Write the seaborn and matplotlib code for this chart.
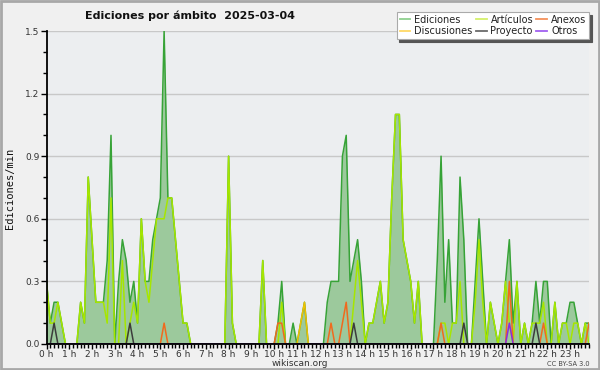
import numpy as np
import pandas as pd
import matplotlib
matplotlib.use("Agg")
import matplotlib.pyplot as plt
from matplotlib.lines import Line2D
from matplotlib.patches import Rectangle
from matplotlib.ticker import MultipleLocator, FixedLocator, FixedFormatter
import seaborn as sns

# ---- data: edits per minute, 10-minute bins (144 bins) ----
minutos = list(range(0, 1440, 10))
horas_lbl = [f"{h} h" for h in range(24)]

ediciones = [
    0.3, 0.1, 0.2, 0.2, 0.1, 0, 0, 0, 0, 0.2, 0.1, 0.8,
    0.5, 0.2, 0.2, 0.2, 0.4, 1.0, 0, 0.3, 0.5, 0.4, 0.2, 0.3,
    0.1, 0.6, 0.3, 0.3, 0.5, 0.6, 0.7, 1.5, 0.7, 0.7, 0.5, 0.3,
    0.1, 0.1, 0, 0, 0, 0, 0, 0, 0, 0, 0, 0,
    0.9, 0.1, 0, 0, 0, 0, 0, 0, 0, 0.4, 0, 0,
    0, 0.1, 0.3, 0, 0, 0.1, 0, 0.1, 0.2, 0, 0, 0,
    0, 0, 0.2, 0.3, 0.3, 0.3, 0.9, 1.0, 0.3, 0.4, 0.5, 0.3,
    0, 0.1, 0.1, 0.2, 0.3, 0.1, 0.2, 0.7, 1.1, 1.1, 0.5, 0.4,
    0.3, 0.1, 0.3, 0, 0, 0, 0, 0.4, 0.9, 0.2, 0.5, 0.1,
    0.1, 0.8, 0.5, 0, 0, 0.3, 0.6, 0.3, 0, 0.2, 0.1, 0,
    0.1, 0.3, 0.5, 0.1, 0.3, 0, 0.1, 0, 0.1, 0.3, 0.1, 0.3,
    0.3, 0, 0.2, 0, 0.1, 0.1, 0.2, 0.2, 0.1, 0, 0.1, 0.1,
]
articulos = [
    0.3, 0.1, 0.1, 0.2, 0.1, 0, 0, 0, 0, 0.2, 0.1, 0.8,
    0.5, 0.2, 0.2, 0.2, 0.1, 0.7, 0, 0, 0.4, 0, 0.1, 0.2,
    0.1, 0.6, 0.3, 0.2, 0.4, 0.6, 0.6, 0.6, 0.7, 0.7, 0.5, 0.3,
    0.1, 0.1, 0, 0, 0, 0, 0, 0, 0, 0, 0, 0,
    0.9, 0.1, 0, 0, 0, 0, 0, 0, 0, 0.4, 0, 0,
    0, 0, 0.2, 0, 0, 0, 0, 0, 0, 0, 0, 0,
    0, 0, 0, 0, 0, 0, 0, 0, 0, 0.2, 0.4, 0.2,
    0, 0.1, 0.1, 0.2, 0.3, 0.1, 0.2, 0.7, 1.1, 1.1, 0.5, 0.4,
    0.3, 0.1, 0.3, 0, 0, 0, 0, 0, 0.1, 0.1, 0, 0.1,
    0.1, 0.3, 0, 0, 0, 0.2, 0.5, 0.2, 0, 0.2, 0.1, 0,
    0.1, 0.3, 0.1, 0, 0.3, 0, 0.1, 0, 0.1, 0.1, 0.1, 0.2,
    0, 0, 0.2, 0, 0.1, 0.1, 0, 0.1, 0.1, 0, 0.1, 0,
]
anexos = [
    0, 0, 0, 0, 0, 0, 0, 0, 0, 0, 0, 0,
    0, 0, 0, 0, 0, 0, 0, 0, 0, 0, 0, 0,
    0, 0, 0, 0, 0, 0, 0, 0.1, 0, 0, 0, 0,
    0, 0, 0, 0, 0, 0, 0, 0, 0, 0, 0, 0,
    0, 0, 0, 0, 0, 0, 0, 0, 0, 0, 0, 0,
    0, 0.1, 0.1, 0, 0, 0, 0, 0, 0, 0, 0, 0,
    0, 0, 0, 0.1, 0, 0, 0.1, 0.2, 0, 0, 0, 0,
    0, 0, 0, 0, 0, 0, 0, 0, 0, 0, 0, 0,
    0, 0, 0, 0, 0, 0, 0, 0, 0.1, 0, 0, 0,
    0, 0, 0, 0, 0, 0, 0, 0, 0, 0, 0, 0,
    0, 0, 0.3, 0, 0, 0, 0, 0, 0, 0, 0, 0.1,
    0, 0, 0, 0, 0, 0, 0, 0, 0, 0, 0, 0.1,
]
discusiones = [
    0, 0, 0, 0, 0, 0, 0, 0, 0, 0, 0, 0,
    0, 0, 0, 0, 0, 0, 0, 0, 0, 0, 0, 0,
    0, 0, 0, 0, 0, 0, 0, 0, 0, 0, 0, 0,
    0, 0, 0, 0, 0, 0, 0, 0, 0, 0, 0, 0,
    0, 0, 0, 0, 0, 0, 0, 0, 0, 0, 0, 0,
    0, 0, 0, 0, 0, 0, 0, 0.1, 0.2, 0, 0, 0,
    0, 0, 0, 0, 0, 0, 0, 0, 0, 0, 0, 0,
    0, 0, 0, 0, 0, 0, 0, 0, 0, 0, 0, 0,
    0, 0, 0, 0, 0, 0, 0, 0, 0, 0, 0, 0,
    0, 0, 0, 0, 0, 0, 0, 0, 0, 0, 0, 0,
    0, 0, 0, 0, 0, 0, 0, 0, 0, 0, 0, 0,
    0, 0, 0, 0, 0, 0, 0, 0, 0, 0, 0, 0,
]
proyecto = [
    0, 0, 0.1, 0, 0, 0, 0, 0, 0, 0, 0, 0,
    0, 0, 0, 0, 0, 0, 0, 0, 0, 0, 0.1, 0,
    0, 0, 0, 0, 0, 0, 0, 0, 0, 0, 0, 0,
    0, 0, 0, 0, 0, 0, 0, 0, 0, 0, 0, 0,
    0, 0, 0, 0, 0, 0, 0, 0, 0, 0, 0, 0,
    0, 0, 0, 0, 0, 0, 0, 0, 0, 0, 0, 0,
    0, 0, 0, 0, 0, 0, 0, 0, 0, 0.1, 0, 0,
    0, 0, 0, 0, 0, 0, 0, 0, 0, 0, 0, 0,
    0, 0, 0, 0, 0, 0, 0, 0, 0, 0, 0, 0,
    0, 0, 0.1, 0, 0, 0, 0, 0, 0, 0, 0, 0,
    0, 0, 0, 0, 0, 0, 0, 0, 0, 0.1, 0, 0,
    0, 0, 0, 0, 0, 0, 0, 0, 0, 0, 0, 0,
]
otros = [
    0, 0, 0, 0, 0, 0, 0, 0, 0, 0, 0, 0,
    0, 0, 0, 0, 0, 0, 0, 0, 0, 0, 0, 0,
    0, 0, 0, 0, 0, 0, 0, 0, 0, 0, 0, 0,
    0, 0, 0, 0, 0, 0, 0, 0, 0, 0, 0, 0,
    0, 0, 0, 0, 0, 0, 0, 0, 0, 0, 0, 0,
    0, 0, 0, 0, 0, 0, 0, 0, 0, 0, 0, 0,
    0, 0, 0, 0, 0, 0, 0, 0, 0, 0, 0, 0,
    0, 0, 0, 0, 0, 0, 0, 0, 0, 0, 0, 0,
    0, 0, 0, 0, 0, 0, 0, 0, 0, 0, 0, 0,
    0, 0, 0, 0, 0, 0, 0, 0, 0, 0, 0, 0,
    0, 0, 0.1, 0, 0, 0, 0, 0, 0, 0, 0, 0,
    0, 0, 0, 0, 0, 0, 0, 0, 0, 0, 0, 0,
]

series = {
    "Ediciones": ediciones,
    "Artículos": articulos,
    "Discusiones": discusiones,
    "Anexos": anexos,
    "Proyecto": proyecto,
    "Otros": otros,
}
colores = {
    "Ediciones": "#37a337",
    "Artículos": "#a6e600",
    "Discusiones": "#f0c000",
    "Anexos": "#f06a1e",
    "Proyecto": "#3c3c3c",
    "Otros": "#8a2be2",
}
colores_leyenda = {
    "Ediciones": "#8fd08f",
    "Artículos": "#d4f06a",
    "Discusiones": "#ffd966",
    "Anexos": "#f5915a",
    "Proyecto": "#6a6a6a",
    "Otros": "#a060f0",
}

hora = [m / 60 for m in minutos]
df = pd.concat(
    [pd.DataFrame({"hora": hora, "valor": v, "serie": k}) for k, v in series.items()],
    ignore_index=True,
)

# ---- figure ----
fig = plt.figure(figsize=(6, 3.7), dpi=100)
fig.patch.set_facecolor("#f0f0f0")
ax = fig.add_axes([0.0775, 0.0703, 0.9042, 0.8459])
ax.set_facecolor("#eceef0")

ax.fill_between(hora, 0, ediciones, color="#9cc99c", lw=0, zorder=1.2)
sns.lineplot(data=df, x="hora", y="valor", hue="serie",
             hue_order=list(series.keys()), palette=colores,
             estimator=None, linewidth=1.1, legend=False, ax=ax, zorder=2)

ax.set_xlim(0, hora[-1])
ax.set_ylim(0, 1.5)
ax.set_xlabel("")
ax.set_ylabel("")

ax.xaxis.set_major_locator(FixedLocator(list(range(24))))
ax.xaxis.set_major_formatter(FixedFormatter(horas_lbl))
ax.xaxis.set_minor_locator(MultipleLocator(1 / 6))
ax.yaxis.set_major_locator(MultipleLocator(0.3))
ax.yaxis.set_minor_locator(MultipleLocator(0.1))
ax.yaxis.set_major_formatter(matplotlib.ticker.FormatStrFormatter("%.1f"))

ax.tick_params(axis="both", which="both", direction="out", color="black",
               labelsize=6.5, labelcolor="#333333")
ax.tick_params(axis="x", which="major", length=3.5, width=1, pad=0.5)
ax.tick_params(axis="x", which="minor", length=3, width=1)
ax.tick_params(axis="y", which="major", length=4, width=1, pad=1)
ax.tick_params(axis="y", which="minor", length=3, width=1)

ax.grid(axis="y", which="major", color="#c8c8c8", lw=1, zorder=0)
ax.grid(axis="x", visible=False)
ax.set_axisbelow(True)
for s in ["top", "right"]:
    ax.spines[s].set_visible(False)
for s in ["left", "bottom"]:
    ax.spines[s].set_color("black")
    ax.spines[s].set_linewidth(1.3)
    ax.spines[s].set_zorder(5)

# legend
orden = ["Ediciones", "Discusiones", "Artículos", "Proyecto", "Anexos", "Otros"]
handles = [Line2D([], [], color=colores_leyenda[k], lw=1.3) for k in orden]
leg = fig.legend(handles, orden, ncol=3, loc="upper right",
                 bbox_to_anchor=(0.982, 0.968), fontsize=7,
                 frameon=True, fancybox=False, shadow={"color": "#555555", "alpha": 1},
                 handlelength=1.1, handletextpad=0.4, columnspacing=0.35,
                 labelspacing=0.15, borderpad=0.3, borderaxespad=0)
leg.get_frame().set_edgecolor("#aaaaaa")
leg.get_frame().set_facecolor("white")
leg.get_frame().set_linewidth(0.8)
for t in leg.get_texts():
    t.set_color("#222222")

# texts
fig.text(0.142, 0.957, "Ediciones por ámbito  2025-03-04", fontsize=8.0,
         fontweight="bold", ha="left", va="center", color="#111111")
fig.text(0.016, 0.49, "Ediciones/min", rotation=90, family="DejaVu Sans Mono",
         fontsize=7.5, ha="center", va="center", color="#111111")
fig.text(0.5, 0.018, "wikiscan.org", fontsize=6.5, ha="center", va="center",
         color="#333333")
fig.text(0.982, 0.017, "CC BY-SA 3.0", fontsize=4.8, ha="right", va="center",
         color="#444444")

fig.patches.append(Rectangle((0.0015, 0.0025), 0.997, 0.995, transform=fig.transFigure,
                             fill=False, edgecolor="#a8a8a8", lw=2))

fig.savefig("out.png", dpi=100, facecolor=fig.get_facecolor())
